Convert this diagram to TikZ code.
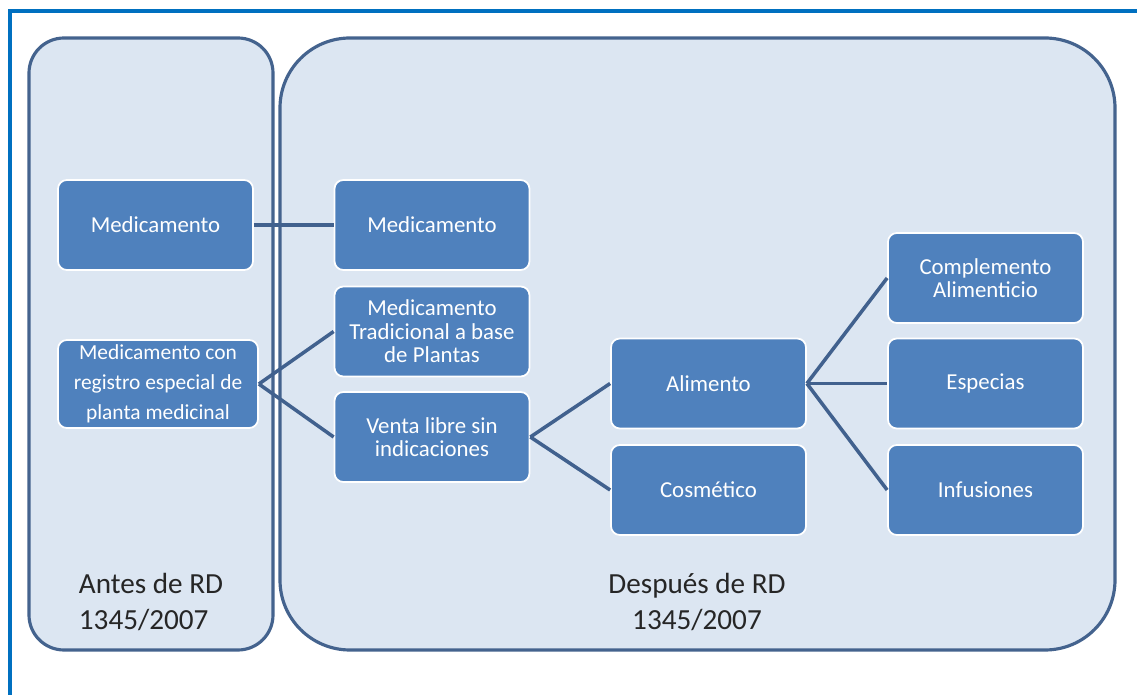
\documentclass[tikz,border=0pt]{standalone}
\usepackage{fontspec}
\setmainfont{Carlito}
\definecolor{frameblue}{HTML}{0070C0}
\definecolor{panelfill}{HTML}{DCE6F2}
\definecolor{paneledge}{HTML}{44638E}
\definecolor{boxfill}{HTML}{4F81BD}
\definecolor{linkcol}{HTML}{41618E}
\begin{document}
\begin{tikzpicture}[x=0.02cm,y=-0.02cm,
  box/.style={rectangle,rounded corners=5pt,fill=boxfill,draw=white,line width=1pt,
    minimum width=3.9cm,minimum height=1.8cm,align=center,text=white,
    font=\fontsize{13}{13.4}\selectfont,inner sep=2pt},
  panel/.style={fill=panelfill,draw=paneledge,line width=1.8pt},
  link/.style={draw=linkcol,line width=2pt},
  era/.style={align=left,font=\fontsize{16.6}{20}\selectfont,text=black!85}]
  \useasboundingbox (0,0) rectangle (1137,695);
  \draw[frameblue,line width=2.2pt] (10,695)--(10,11)--(1137,11);
  % panels
  \draw[panel,rounded corners=0.7cm] (29,38) rectangle (273,650);
  \draw[panel,rounded corners=1.4cm] (280,38) rectangle (1115,650);
  \node[era] (antes) at (151,602) {Antes de RD\\1345/2007};
  \node[era,align=center] (despues) at (697,602) {Después de RD\\1345/2007};
  % boxes
  \node[box,minimum width=4cm,minimum height=1.76cm,
    font=\fontsize{12.2}{17}\selectfont] (regEsp) at (158,384) {Medicamento con\\registro especial de\\planta medicinal};
  \node[box] (medA) at (155.5,225) {Medicamento};
  \node[box] (medB) at (432,225) {Medicamento};
  \node[box] (medTrad) at (432,331.5) {Medicamento\\Tradicional a base\\de Plantas};
  \node[box] (ventaLib) at (432,437) {Venta libre sin\\indicaciones};
  \node[box] (alim) at (708.5,383.5) {Alimento};
  \node[box] (cosm) at (708.5,490) {Cosmético};
  \node[box] (compl) at (985.5,278) {Complemento\\Alimenticio};
  \node[box] (espec) at (985.5,383.5) {Especias};
  \node[box] (infus) at (985.5,490) {Infusiones};
  % links
  \draw[link] (medA.east)--(medB.west);
  \draw[link] (regEsp.east)--(medTrad.west);
  \draw[link] (regEsp.east)--(ventaLib.west);
  \draw[link] (ventaLib.east)--(alim.west);
  \draw[link] (ventaLib.east)--(cosm.west);
  \draw[link] (alim.east)--(compl.west);
  \draw[link] (alim.east)--(espec.west);
  \draw[link] (alim.east)--(infus.west);
\end{tikzpicture}
\end{document}
